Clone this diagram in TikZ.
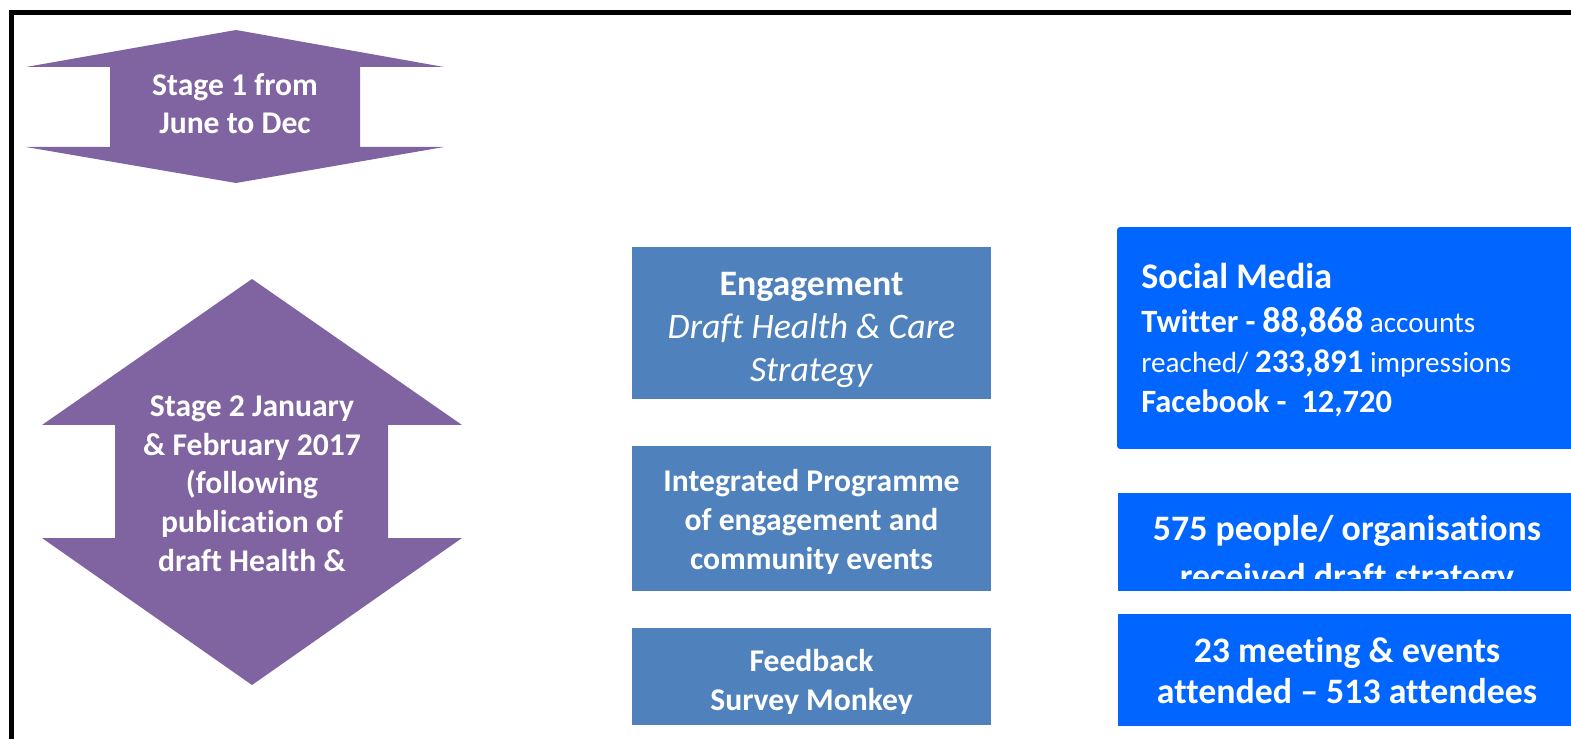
\documentclass[tikz,border=0pt]{standalone}
\usepackage{fontspec}
\setmainfont[Ligatures={NoCommon,NoContextual,NoRequired}]{Carlito}
\usepackage{tikz}
\usetikzlibrary{positioning}
\definecolor{stagepurple}{HTML}{8064A2}
\definecolor{midblue}{HTML}{4F81BD}
\definecolor{brightblue}{HTML}{0066FF}

\begin{document}
\begin{tikzpicture}[x=0.02cm, y=-0.02cm,
    midbox/.style={fill=midblue, minimum width=7.18cm, inner sep=0pt},
    statbox/.style={fill=brightblue, minimum width=9.16cm, inner sep=0pt},
    boxtext/.style={text=white, align=center, inner sep=0pt, font=\bfseries}]

    \clip (0,0) rectangle (1571,739);

    % Frame
    \draw [line width=0.1cm] (11.5,12.5) rectangle (1650,800);

    % Stage 1 arrow
    \fill [stagepurple] (236,30) -- (444,67) -- (360,67) -- (360,147) -- (444,147) -- (236,183)
        -- (26,147) -- (110,147) -- (110,67) -- (26,67) -- cycle;
    \node [boxtext, font=\fontsize{18}{22}\selectfont\bfseries] (stageone) at (235,103.5) {Stage 1 from\\June to Dec};

    % Stage 2 arrow
    \fill [stagepurple] (252,279) -- (462,425) -- (388,425) -- (388,538) -- (462,538) -- (252,685)
        -- (42,538) -- (115,538) -- (115,425) -- (42,425) -- cycle;
    \node [boxtext, font=\fontsize{18}{22}\selectfont\bfseries] (stagetwo) at (252,483.5)
        {Stage 2 January\\\& February 2017\\(following\\publication of\\draft Health \&};

    % Middle column
    \node [midbox, minimum height=3.04cm] (engage) at (811.5,323) {};
    \node [boxtext, font=\fontsize{20.4}{24.5}\selectfont] (engagetxt) at (811.5,329.5)
        {\textbf{Engagement}\\\textit{Draft Health \& Care}\\\textit{Strategy}};

    \node [midbox, minimum height=2.9cm] (programme) at (811.5,518.5) {};
    \node [boxtext, font=\fontsize{18}{22.2}\selectfont\bfseries] (programmetxt) at (811.5,521.5)
        {Integrated Programme\\of engagement and\\community events};

    \node [midbox, minimum height=1.94cm] (feedback) at (811.5,676.5) {};
    \begin{scope}
        \clip (632,628) rectangle (991,713);
        \node [boxtext, font=\fontsize{18}{22.2}\selectfont\bfseries] (feedbacktxt) at (811.5,682.5)
            {Feedback\\Survey Monkey};
    \end{scope}

    % Right column
    \node [statbox, minimum height=4.44cm, rounded corners=0.06cm] (social) at (1346,338) {};
    \node [boxtext, anchor=base west, font=\fontsize{20.5}{24}\selectfont\bfseries] (socialhead) at (1141,289) {Social Media};
    \node [boxtext, anchor=base west, font=\fontsize{16.6}{20}\selectfont] (twitter) at (1141,332.7)
        {\textbf{{\fontsize{18.5}{22}\selectfont Twitter -} {\fontsize{20.6}{24}\selectfont 88,868}} accounts};
    \node [boxtext, anchor=base west, font=\fontsize{16.6}{20}\selectfont] (reached) at (1141,372.7)
        {reached/ \textbf{{\fontsize{18.7}{22}\selectfont 233,891}} impressions};
    \node [boxtext, anchor=base west, font=\fontsize{18.5}{22}\selectfont\bfseries] (facebook) at (1141,413)
        {Facebook -\ \ 12,720};

    \node [statbox, minimum height=1.96cm] (received) at (1347,542) {};
    \begin{scope}
        \clip (1118,493) rectangle (1576,578.5);
        \node [boxtext, font=\fontsize{20.4}{27.3}\selectfont\bfseries] (receivedtxt) at (1347,554.5)
            {575 people/ organisations\\received draft strategy};
    \end{scope}

    \node [statbox, minimum height=2.24cm] (meetings) at (1347,670) {};
    \node [boxtext, font=\fontsize{20.4}{23.3}\selectfont\bfseries] (meetingstxt) at (1347,670.5)
        {23 meeting \& events\\attended -- 513 attendees};
\end{tikzpicture}
\end{document}
